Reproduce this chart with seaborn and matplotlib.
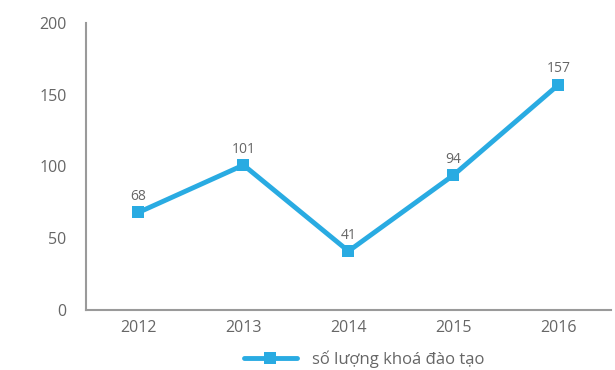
import matplotlib
matplotlib.use("Agg")
import matplotlib.pyplot as plt
from matplotlib.lines import Line2D
import seaborn as sns
import pandas as pd

years = ["2012", "2013", "2014", "2015", "2016"]
courses = [68, 101, 41, 94, 157]
series_name = "số lượng khoá đào tạo"
y_ticks = [0, 50, 100, 150, 200]

sns.set_style("white")
plt.rcParams["font.family"] = ["Open Sans", "DejaVu Sans"]

line_color = "#29abe2"
axis_color = "#9a9a9a"
text_color = "#666666"

df = pd.DataFrame({"pos": range(len(years)), "value": courses})

fig = plt.figure(figsize=(6.15, 3.7), dpi=100)
ax = fig.add_axes([0.1398, 0.1622, 0.8537, 0.7756])

sns.lineplot(data=df, x="pos", y="value", ax=ax, color=line_color,
             linewidth=3.5, marker="s", markersize=8, markeredgewidth=0,
             legend=False)

for x, v in zip(df["pos"], df["value"]):
    ax.annotate(str(v), (x, v), xytext=(0, 6), textcoords="offset points",
                ha="center", va="bottom", fontsize=10, color=text_color)

ax.set_xlim(-0.5, len(years) - 0.5)
ax.set_ylim(0, 200)
ax.set_yticks(y_ticks)
ax.set_xticks(range(len(years)))
ax.set_xticklabels(years)
ax.set_xticks([i + 0.5 for i in range(len(years))], minor=True)
ax.set_xlabel("")
ax.set_ylabel("")

for side in ["top", "right"]:
    ax.spines[side].set_visible(False)
for side in ["left", "bottom"]:
    ax.spines[side].set_color(axis_color)
    ax.spines[side].set_linewidth(1.5)

ax.tick_params(axis="y", direction="out", length=8, width=1, color=axis_color,
               labelsize=11.5, labelcolor=text_color, pad=6)
ax.tick_params(axis="x", which="major", length=0, labelsize=11.5,
               labelcolor=text_color, pad=7)
ax.tick_params(axis="x", which="minor", direction="in", length=6, width=1,
               color=axis_color)

handle = Line2D([], [], color=line_color, linewidth=3.5, marker="s",
                markersize=8, markeredgewidth=0)
fig.legend([handle], [series_name], loc="center", bbox_to_anchor=(0.592, 0.03),
           frameon=False, fontsize=12, labelcolor=text_color,
           handlelength=3.2, handletextpad=0.9)

fig.savefig("out.png", dpi=100)
